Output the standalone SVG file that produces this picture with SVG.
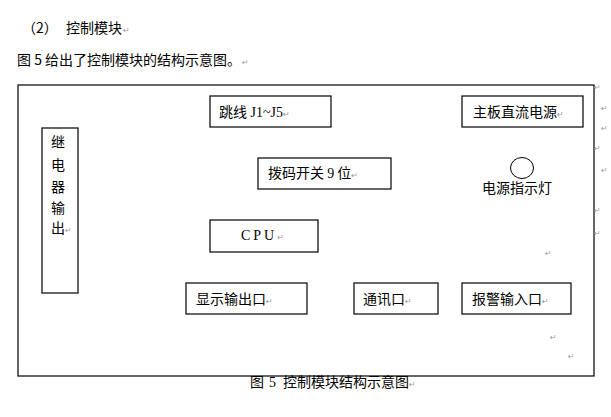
<svg xmlns="http://www.w3.org/2000/svg" width="611" height="417" viewBox="0 0 611 417">
<style>
.box{fill:none;stroke:#000;stroke-width:1.2}
.t{font-family:"Noto Sans CJK SC","Noto Sans",sans-serif;font-size:14px;fill:#000}
.r{font-family:"Liberation Serif",serif}
.pm{font-family:"DejaVu Sans",sans-serif;font-size:8px;fill:#999}
</style>
<rect width="611" height="417" fill="#fff"/>
<g id="header">
<text class="t" x="22" y="33">（2）<tspan x="66">控制模块</tspan><tspan class="pm" dx="1">↵</tspan></text>
<text class="t" x="17" y="65">图 5 给出了控制模块的结构示意图。<tspan class="pm" dx="1">↵</tspan></text>
</g>
<g id="frame">
<rect class="box" x="18" y="85" width="576" height="291"/>
</g>
<g id="relay">
<rect class="box" x="42" y="128" width="36" height="165"/>
<text class="t" x="51" y="147">继</text>
<text class="t" x="51" y="170">电</text>
<text class="t" x="51" y="192">器</text>
<text class="t" x="51" y="213">输</text>
<text class="t" x="51" y="233">出<tspan class="pm">↵</tspan></text>
</g>
<g id="jumper">
<rect class="box" x="210" y="96" width="121" height="31"/>
<text class="t" x="219" y="117">跳线<tspan class="r"> J1~J5</tspan><tspan class="pm">↵</tspan></text>
</g>
<g id="power">
<rect class="box" x="462" y="96" width="121" height="31"/>
<text class="t" x="473" y="117">主板直流电源<tspan class="pm">↵</tspan></text>
</g>
<g id="dip">
<rect class="box" x="258" y="158" width="133" height="31"/>
<text class="t" x="268" y="178">拨码开关 <tspan class="r">9</tspan> 位<tspan class="pm">↵</tspan></text>
</g>
<g id="led">
<ellipse cx="522" cy="168" rx="11.5" ry="10.5" fill="none" stroke="#000" stroke-width="1"/>
<text class="t" x="482" y="193">电源指示灯</text>
</g>
<g id="cpu">
<rect class="box" x="210" y="220" width="108" height="32"/>
<text class="t r" x="241" y="240" letter-spacing="3">CPU<tspan class="pm" letter-spacing="0">↵</tspan></text>
</g>
<g id="display">
<rect class="box" x="186" y="283" width="121" height="31"/>
<text class="t" x="196" y="304">显示输出口<tspan class="pm">↵</tspan></text>
</g>
<g id="comm">
<rect class="box" x="354" y="283" width="84" height="31"/>
<text class="t" x="363" y="304">通讯口<tspan class="pm">↵</tspan></text>
</g>
<g id="alarm">
<rect class="box" x="462" y="283" width="109" height="31"/>
<text class="t" x="472" y="304">报警输入口<tspan class="pm">↵</tspan></text>
</g>
<g id="connectors"></g>
<g id="caption">
<text class="t" x="250" y="387">图<tspan class="r" x="269">5</tspan><tspan x="283">控制模块结构示意图</tspan><tspan class="pm">↵</tspan></text>
</g>
<g id="marks" class="pm">
<text x="594" y="90">↵</text>
<text x="601" y="111">↵</text>
<text x="601" y="131">↵</text>
<text x="594" y="151">↵</text>
<text x="601" y="173">↵</text>
<text x="594" y="213">↵</text>
<text x="594" y="236">↵</text>
<text x="545" y="256">↵</text>
<text x="550" y="340">↵</text>
<text x="568" y="359">↵</text>
</g>
</svg>
